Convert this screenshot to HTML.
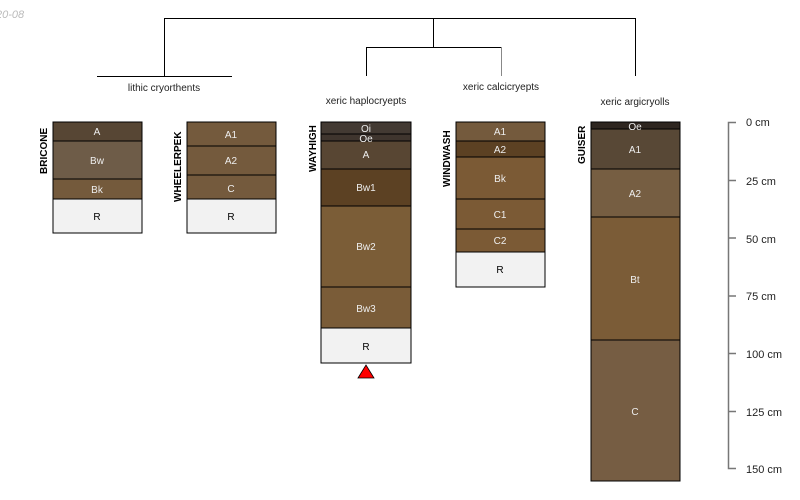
<!DOCTYPE html>
<html><head><meta charset="utf-8"><style>
html,body{margin:0;padding:0;background:#fff;}
svg{display:block;font-family:"Liberation Sans",sans-serif;}
.h{stroke:#000;stroke-width:1;}
.t{font-size:10px;fill:#eee;text-anchor:middle;}
.k{font-size:10px;fill:#000;text-anchor:middle;}
.n{font-size:10px;font-weight:bold;fill:#000;}
</style></head><body>
<svg width="800" height="500" viewBox="0 0 800 500" xmlns="http://www.w3.org/2000/svg">
<text x="-4" y="18" font-size="11" fill="#bbb" font-style="italic">20-08</text>
<!-- dendrogram -->
<g stroke="#000" fill="none" stroke-width="1">
<path d="M164.5 76V18.5H635.5V76"/>
<path d="M97 76.5H232"/>
<path d="M433.5 18V47.5"/>
<path d="M366.5 76V47.5H501.5"/>
</g>
<path d="M501.5 47V76" stroke="#888" fill="none"/>
<g font-size="10" fill="#222" text-anchor="middle">
<text x="164" y="91">lithic cryorthents</text>
<text x="366" y="104">xeric haplocryepts</text>
<text x="501" y="90">xeric calcicryepts</text>
<text x="635" y="105">xeric argicryolls</text>
</g>
<!-- BRICONE -->
<g class="h">
<rect x="53" y="122" width="89" height="19" fill="#574634"/>
<rect x="53" y="141" width="89" height="38" fill="#6e5c48"/>
<rect x="53" y="179" width="89" height="20" fill="#745a3c"/>
<rect x="53" y="199" width="89" height="34" fill="#f2f2f2"/>
</g>
<text class="t" x="97" y="135">A</text><text class="t" x="97" y="164">Bw</text><text class="t" x="97" y="193">Bk</text><text class="k" x="97" y="220">R</text>
<text class="n" transform="translate(47,174) rotate(-90)">BRICONE</text>
<!-- WHEELERPEK -->
<g class="h">
<rect x="187" y="122" width="89" height="24" fill="#745a3d"/>
<rect x="187" y="146" width="89" height="29" fill="#745a3d"/>
<rect x="187" y="175" width="89" height="24" fill="#745a3d"/>
<rect x="187" y="199" width="89" height="34" fill="#f2f2f2"/>
</g>
<text class="t" x="231" y="138">A1</text><text class="t" x="231" y="164">A2</text><text class="t" x="231" y="192">C</text><text class="k" x="231" y="220">R</text>
<text class="n" transform="translate(181,202) rotate(-90)">WHEELERPEK</text>
<!-- WAYHIGH -->
<g class="h">
<rect x="321" y="122" width="90" height="12" fill="#433a33"/>
<rect x="321" y="134" width="90" height="7" fill="#3f352e"/>
<rect x="321" y="141" width="90" height="28" fill="#584633"/>
<rect x="321" y="169" width="90" height="37" fill="#5c4123"/>
<rect x="321" y="206" width="90" height="81" fill="#7b5d37"/>
<rect x="321" y="287" width="90" height="41" fill="#7a5c38"/>
<rect x="321" y="328" width="90" height="35" fill="#f2f2f2"/>
</g>
<text class="t" x="366" y="132">Oi</text><text class="t" x="366" y="142">Oe</text><text class="t" x="366" y="158">A</text><text class="t" x="366" y="191">Bw1</text><text class="t" x="366" y="250">Bw2</text><text class="t" x="366" y="312">Bw3</text><text class="k" x="366" y="350">R</text>
<polygon points="358,378 366,365 374,378" fill="#f00" stroke="#000" stroke-width="0.8"/>
<text class="n" transform="translate(316,172) rotate(-90)">WAYHIGH</text>
<!-- WINDWASH -->
<g class="h">
<rect x="456" y="122" width="89" height="19" fill="#745a3d"/>
<rect x="456" y="141" width="89" height="16" fill="#5c4123"/>
<rect x="456" y="157" width="89" height="42" fill="#7b5a35"/>
<rect x="456" y="199" width="89" height="30" fill="#7b5a35"/>
<rect x="456" y="229" width="89" height="23" fill="#7b5a35"/>
<rect x="456" y="252" width="89" height="35" fill="#f2f2f2"/>
</g>
<text class="t" x="500" y="135">A1</text><text class="t" x="500" y="153">A2</text><text class="t" x="500" y="182">Bk</text><text class="t" x="500" y="218">C1</text><text class="t" x="500" y="244">C2</text><text class="k" x="500" y="273">R</text>
<text class="n" transform="translate(450,187) rotate(-90)">WINDWASH</text>
<!-- GUISER -->
<g class="h">
<rect x="591" y="122" width="89" height="7" fill="#2e2620"/>
<rect x="591" y="129" width="89" height="40" fill="#584836"/>
<rect x="591" y="169" width="89" height="48" fill="#765e42"/>
<rect x="591" y="217" width="89" height="123" fill="#7b5c37"/>
<rect x="591" y="340" width="89" height="141" fill="#765d43"/>
</g>
<text class="t" x="635" y="130">Oe</text><text class="t" x="635" y="153">A1</text><text class="t" x="635" y="197">A2</text><text class="t" x="635" y="283">Bt</text><text class="t" x="635" y="415">C</text>
<text class="n" transform="translate(585,164) rotate(-90)">GUISER</text>
<!-- scale -->
<g stroke="#777" stroke-width="1.5" fill="none">
<path d="M736 122.5H728.5V468.5H736"/>
<path d="M728 180.5H736M728 238H736M728 296H736M728 353.5H736M728 411.5H736"/>
</g>
<g font-size="11" fill="#222">
<text x="746" y="126">0 cm</text>
<text x="746" y="185">25 cm</text>
<text x="746" y="243">50 cm</text>
<text x="746" y="300">75 cm</text>
<text x="746" y="358">100 cm</text>
<text x="746" y="416">125 cm</text>
<text x="746" y="473">150 cm</text>
</g>
</svg>
</body></html>
